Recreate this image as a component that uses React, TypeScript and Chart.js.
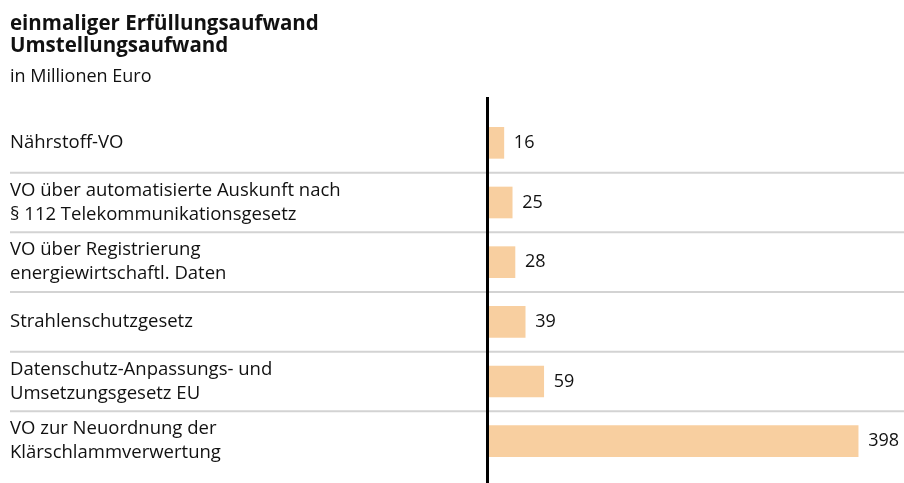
import React, { useEffect, useRef } from "react";
import { Chart, registerables } from "chart.js";

Chart.register(...registerables);

const titleLines = ["einmaliger Erfüllungsaufwand", "Umstellungsaufwand"];
const subtitle = "in Millionen Euro";
const categories: (string | string[])[] = [
  "Nährstoff-VO",
  ["VO über automatisierte Auskunft nach", "§ 112 Telekommunikationsgesetz"],
  ["VO über Registrierung", "energiewirtschaftl. Daten"],
  "Strahlenschutzgesetz",
  ["Datenschutz-Anpassungs- und", "Umsetzungsgesetz EU"],
  ["VO zur Neuordnung der", "Klärschlammverwertung"],
];
const values = [16, 25, 28, 39, 59, 398];

const FONT = "'Open Sans', 'Noto Sans', sans-serif";
const TEXT = "#111111";

const decor = {
  id: "decor",
  beforeDatasetsDraw(chart: any) {
    const { ctx, scales } = chart;
    const y = scales.y;
    ctx.save();
    ctx.strokeStyle = "#d3d3d3";
    ctx.lineWidth = 2;
    for (let i = 0; i < values.length - 1; i++) {
      const yy = (y.getPixelForValue(i) + y.getPixelForValue(i + 1)) / 2;
      ctx.beginPath();
      ctx.moveTo(10, yy);
      ctx.lineTo(chart.width, yy);
      ctx.stroke();
    }
    ctx.restore();
  },
  afterDatasetsDraw(chart: any) {
    const { ctx, chartArea, scales } = chart;
    ctx.save();
    const x0 = scales.x.getPixelForValue(0);
    ctx.fillStyle = "#000";
    ctx.fillRect(x0 - 3, chartArea.top - 16, 3, chart.height - chartArea.top + 16);
    const meta = chart.getDatasetMeta(0);
    ctx.fillStyle = TEXT;
    ctx.font = `18px ${FONT}`;
    ctx.textBaseline = "middle";
    ctx.textAlign = "left";
    meta.data.forEach((bar: any, i: number) => {
      ctx.fillText(String(values[i]), bar.x + 10, bar.y);
    });
    ctx.textBaseline = "alphabetic";
    ctx.font = `bold 20.5px ${FONT}`;
    ctx.fillText(titleLines[0], 10, 30);
    ctx.fillText(titleLines[1], 10, 52);
    ctx.font = `18px ${FONT}`;
    ctx.fillText(subtitle, 10, 82);
    ctx.restore();
  },
};

export default function App() {
  const ref = useRef<HTMLCanvasElement>(null);
  useEffect(() => {
    if (!ref.current) return;
    const chart = new Chart(ref.current, {
      type: "bar",
      data: {
        labels: categories as any,
        datasets: [
          {
            data: values,
            backgroundColor: "#f8cfa0",
            barThickness: 31,
          },
        ],
      },
      options: {
        indexAxis: "y",
        responsive: false,
        animation: false,
        layout: { padding: { left: 10, top: 113, right: 44, bottom: 7 } },
        plugins: {
          legend: { display: false },
          tooltip: { enabled: false },
          title: { display: false },
        },
        scales: {
          x: { display: false, min: 0, max: 400 },
          y: {
            grid: { display: false },
            border: { display: false },
            afterFit: (scale: any) => {
              scale.width = 479;
            },
            ticks: {
              crossAlign: "far",
              color: TEXT,
              font: { family: FONT, size: 18.5, lineHeight: 1.3 },
              padding: 0,
            },
          },
        },
      },
      plugins: [decor],
    });
    return () => chart.destroy();
  }, []);
  return (
    <div style={{ position: "absolute", left: 0, top: 0, width: 904, height: 483, background: "#fff" }}>
      <canvas ref={ref} width={904} height={483} style={{ display: "block", width: 904, height: 483 }} />
    </div>
  );
}
